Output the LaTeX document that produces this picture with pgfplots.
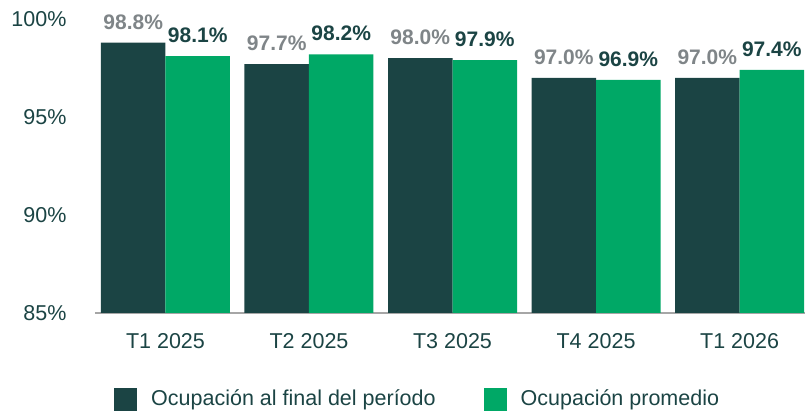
\documentclass[border=0pt]{standalone}
\usepackage{pgfplots}
\pgfplotsset{compat=1.18}
\usepackage{fontspec}
\setmainfont{Liberation Sans}
\definecolor{darkc}{HTML}{1B4444}
\definecolor{greenc}{HTML}{00A866}
\definecolor{greyl}{HTML}{7F8588}
\definecolor{axisc}{HTML}{A6A6A6}
\begin{document}
\begin{tikzpicture}
\useasboundingbox (-95pt,-98pt) rectangle (710pt,313pt);
\begin{axis}[
  at={(0pt,0pt)}, anchor=south west,
  scale only axis, width=710pt, height=313pt,
  xmin=-0.491, xmax=4.456, ymin=85, ymax=100.97,
  ybar=0pt, bar width=64.5pt,
  axis x line*=bottom, axis y line*=left,
  x axis line style={axisc, line width=2pt, -},
  y axis line style={draw=none},
  major tick length=0pt,
  tick style={draw=none},
  /pgf/number format/assume math mode=true,
  xtick={0,1,2,3,4},
  xticklabels={T1 2025,T2 2025,T3 2025,T4 2025,T1 2026},
  ytick={85,90,95,100},
  yticklabel={\pgfmathprintnumber{\tick}\%},
  ticklabel style={font=\fontsize{21.5}{25}\selectfont, text=darkc},
  yticklabel style={xshift=-25pt},
  xticklabel style={yshift=-17pt},
  nodes near coords={\pgfmathprintnumber[fixed,fixed zerofill,precision=1]{\pgfplotspointmeta}\%},
  every node near coord/.append style={font=\bfseries\fontsize{21}{25}\selectfont, anchor=south, inner sep=0pt, yshift=13pt},
  legend style={draw=none, fill=none, at={(16pt,-100pt)}, anchor=south west, legend columns=2,
    font=\fontsize{21.5}{25}\selectfont, text=darkc,
    /tikz/every odd column/.append style={column sep=12pt},
    /tikz/every even column/.append style={column sep=46pt, yshift=4pt}},
  legend cell align=left,
  legend image code/.code={\fill[#1] (0pt,-8pt) rectangle (23pt,15pt);},
]
\addplot[fill=darkc, draw=none, every node near coord/.append style={text=greyl}]
  coordinates {(0,98.8) (1,97.7) (2,98.0) (3,97.0) (4,97.0)};
\addplot[fill=greenc, draw=none, every node near coord/.append style={text=darkc}]
  coordinates {(0,98.1) (1,98.2) (2,97.9) (3,96.9) (4,97.4)};
\legend{Ocupación al final del período, Ocupación promedio}
\end{axis}
\end{tikzpicture}
\end{document}
